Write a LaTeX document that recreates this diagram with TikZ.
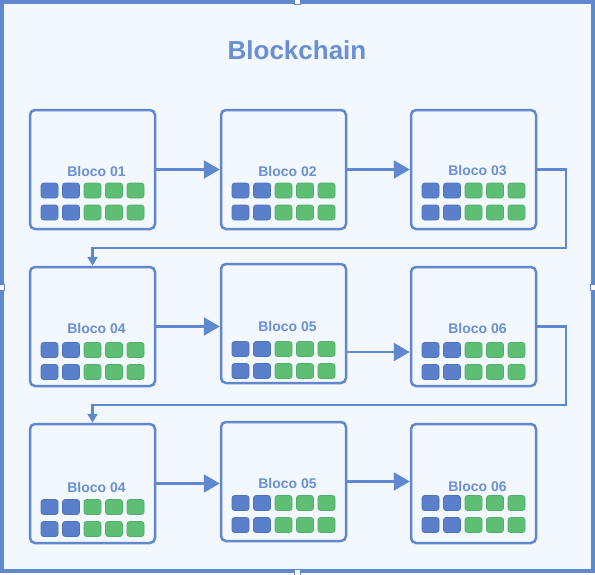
\documentclass[tikz,border=0pt]{standalone}
\usepackage{fontspec}
\setmainfont{Liberation Sans}
\usetikzlibrary{arrows.meta}
\definecolor{bg}{HTML}{F3F7FE}
\definecolor{frameblue}{HTML}{6088CF}
\definecolor{txtblue}{HTML}{6A8FD3}
\definecolor{sqblue}{HTML}{5A80CC}
\definecolor{sqbluedk}{HTML}{4E73BE}
\definecolor{sqgreen}{HTML}{5DBE74}
\definecolor{sqgreendk}{HTML}{50AE67}
\tikzset{
  blockbox/.style={draw=frameblue, line width=2.5pt, fill=bg, rounded corners=5pt,
    minimum width=125pt, minimum height=119pt, inner sep=0pt},
  lbl/.style={text=txtblue, font=\bfseries\fontsize{14}{16}\selectfont, inner sep=0pt},
  sqb/.style={draw=sqbluedk, line width=0.6pt, fill=sqblue, rounded corners=2.5pt,
    minimum width=17pt, minimum height=15pt, inner sep=0pt},
  sqg/.style={draw=sqgreendk, line width=0.6pt, fill=sqgreen, rounded corners=2.5pt,
    minimum width=17pt, minimum height=15pt, inner sep=0pt},
  link/.style={draw=frameblue, line width=2.5pt},
  bigarrow/.style={link, -{Triangle[length=16pt,width=18pt]}},
  smallarrow/.style={link, -{Triangle[length=9pt,width=10pt]}},
  handle/.style={draw=frameblue, line width=1pt, fill=white, minimum size=6pt, inner sep=0pt},
}
\newcommand\blk[6]{%
  \node[blockbox] (#1) at (#2,#3+59.5) {};
  \node[lbl] (#1l) at (#2+4,#5) {#4};
  \foreach \k/\sty in {1/sqb,2/sqb,3/sqg,4/sqg,5/sqg}{%
    \node[\sty] (#1a\k) at ({#2+(\k-3)*21.5},#6) {};
    \node[\sty] (#1b\k) at ({#2+(\k-3)*21.5},#6+22) {};
  }%
}
\begin{document}
\begin{tikzpicture}[x=1pt,y=-1pt]
\useasboundingbox (0,0) rectangle (595,574);
\fill[white] (0,0) rectangle (595,574);
\draw[draw=frameblue, line width=4pt, fill=bg] (2,2) rectangle (593,571);
\node[text=txtblue, font=\bfseries\fontsize{26}{30}\selectfont, inner sep=0pt] (title) at (297,50) {Blockchain};
% row 1
\blk{b1}{92.5}{110}{Bloco 01}{171}{190.5}
\blk{b2}{283.5}{110}{Bloco 02}{171}{190.5}
\blk{b3}{473.5}{110}{Bloco 03}{171}{190.5}
% row 2
\blk{b4}{92.5}{267}{Bloco 04}{328}{350}
\blk{b5}{283.5}{264}{Bloco 05}{326}{349}
\blk{b6}{473.5}{267}{Bloco 06}{328}{350}
% row 3
\blk{b7}{92.5}{424}{Bloco 04}{487}{507}
\blk{b8}{283.5}{422}{Bloco 05}{483}{503}
\blk{b9}{473.5}{424}{Bloco 06}{486}{503}
% connectors
\coordinate (r1) at (566,248);
\coordinate (r2) at (566,405);
\draw[bigarrow] (b1) -- (b2);
\draw[bigarrow] (b2) -- (b3);
\draw[smallarrow] (b3.east) -| (r1) -| (b4.north);
\draw[bigarrow] (b4.east) -- (b4.east -| b5.west);
\draw[bigarrow] ([yshift=-28.5pt]b5.east) -- ([yshift=-28.5pt]b5.east -| b6.west);
\draw[smallarrow] (b6.east) -| (r2) -| (b7.north);
\draw[bigarrow] (b7.east) -- (b7.east -| b8.west);
\draw[bigarrow] (b8.east) -- (b8.east -| b9.west);
% selection handles
\node[handle] (h1) at (297,1) {};
\node[handle] (h2) at (1,287) {};
\node[handle] (h3) at (593,287) {};
\node[handle] (h4) at (297,572) {};
\end{tikzpicture}
\end{document}
